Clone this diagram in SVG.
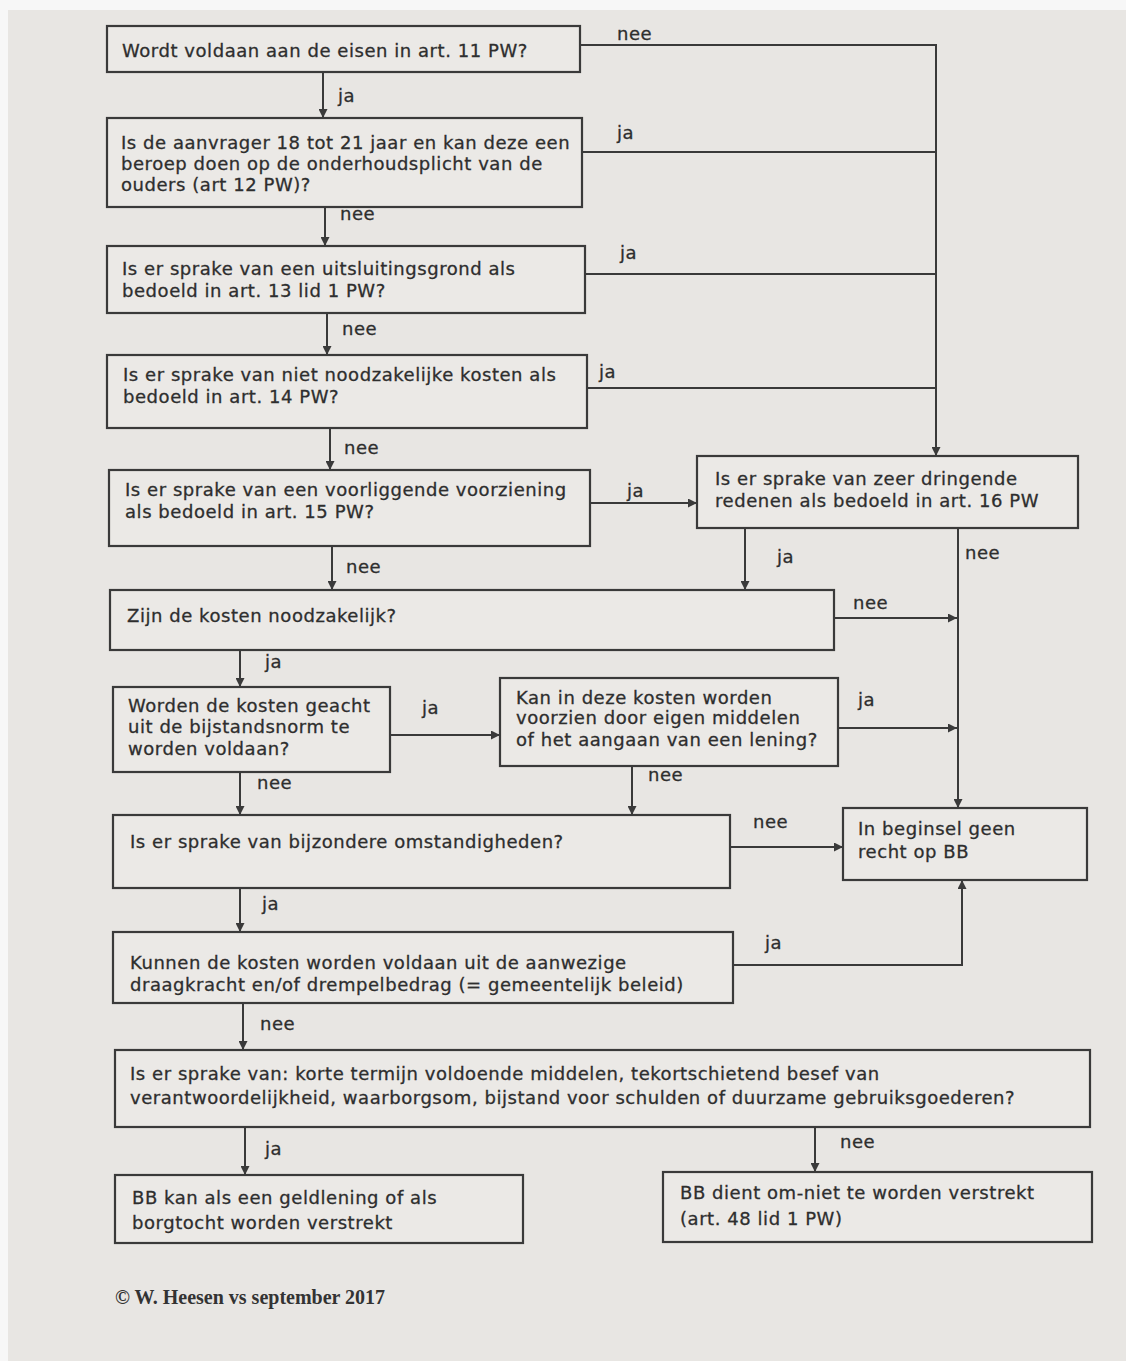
<svg xmlns="http://www.w3.org/2000/svg" width="1126" height="1361" viewBox="0 0 1126 1361">
<style>
.bg{fill:#e8e6e3}
.box{fill:#ebe9e6;stroke:#3a3a3a;stroke-width:2.2}
.t,.l{font-family:"DejaVu Sans",Verdana,sans-serif;font-size:18px;letter-spacing:0.55px;fill:#2e2e2e;stroke:#2e2e2e;stroke-width:0.3}
.c{fill:none;stroke:#3a3a3a;stroke-width:2}
.foot{font-family:"Liberation Serif","Times New Roman",serif;font-size:20px;fill:#333;font-weight:bold}
</style>
<defs>
<marker id="ah" viewBox="0 0 10 10" refX="10" refY="5" markerWidth="9" markerHeight="9" markerUnits="userSpaceOnUse" orient="auto">
<path d="M0,0 L10,5 L0,10 z" fill="#3a3a3a"/>
</marker>
</defs>
<rect class="bg" x="0" y="0" width="1126" height="1361"/>
<rect x="0" y="0" width="1126" height="10" fill="#f7f7f7"/>
<rect x="0" y="0" width="8" height="1361" fill="#f7f7f7"/>

<g id="connectors">
<path class="c" d="M580,45 H936 V456" marker-end="url(#ah)"/>
<path class="c" d="M582,152 H936"/>
<path class="c" d="M585,274 H936"/>
<path class="c" d="M587,388 H936"/>
<path class="c" d="M323,72 V118" marker-end="url(#ah)"/>
<path class="c" d="M325,207 V246" marker-end="url(#ah)"/>
<path class="c" d="M327,313 V355" marker-end="url(#ah)"/>
<path class="c" d="M330,428 V470" marker-end="url(#ah)"/>
<path class="c" d="M590,503 H697" marker-end="url(#ah)"/>
<path class="c" d="M332,546 V590" marker-end="url(#ah)"/>
<path class="c" d="M745,528 V590" marker-end="url(#ah)"/>
<path class="c" d="M958,528 V808" marker-end="url(#ah)"/>
<path class="c" d="M834,618 H957" marker-end="url(#ah)"/>
<path class="c" d="M240,650 V687" marker-end="url(#ah)"/>
<path class="c" d="M390,735 H500" marker-end="url(#ah)"/>
<path class="c" d="M838,728 H957" marker-end="url(#ah)"/>
<path class="c" d="M632,766 V815" marker-end="url(#ah)"/>
<path class="c" d="M240,772 V815" marker-end="url(#ah)"/>
<path class="c" d="M730,847 H843" marker-end="url(#ah)"/>
<path class="c" d="M240,888 V932" marker-end="url(#ah)"/>
<path class="c" d="M733,965 H962 V880" marker-end="url(#ah)"/>
<path class="c" d="M243,1003 V1050" marker-end="url(#ah)"/>
<path class="c" d="M245,1127 V1175" marker-end="url(#ah)"/>
<path class="c" d="M815,1127 V1172" marker-end="url(#ah)"/>
<text class="l" x="617" y="40">nee</text>
<text class="l" x="338" y="102">ja</text>
<text class="l" x="617" y="139">ja</text>
<text class="l" x="340" y="220">nee</text>
<text class="l" x="620" y="259">ja</text>
<text class="l" x="342" y="335">nee</text>
<text class="l" x="599" y="378">ja</text>
<text class="l" x="344" y="454">nee</text>
<text class="l" x="627" y="497">ja</text>
<text class="l" x="346" y="573">nee</text>
<text class="l" x="777" y="563">ja</text>
<text class="l" x="965" y="559">nee</text>
<text class="l" x="853" y="609">nee</text>
<text class="l" x="265" y="668">ja</text>
<text class="l" x="422" y="714">ja</text>
<text class="l" x="858" y="706">ja</text>
<text class="l" x="648" y="781">nee</text>
<text class="l" x="257" y="789">nee</text>
<text class="l" x="753" y="828">nee</text>
<text class="l" x="262" y="910">ja</text>
<text class="l" x="765" y="949">ja</text>
<text class="l" x="260" y="1030">nee</text>
<text class="l" x="265" y="1155">ja</text>
<text class="l" x="840" y="1148">nee</text>
</g>

<g id="n1"><rect class="box" x="107" y="26" width="473" height="46"/>
<text class="t" x="122" y="57">Wordt voldaan aan de eisen in art. 11  PW?</text></g>
<g id="n2"><rect class="box" x="107" y="118" width="475" height="89"/>
<text class="t" x="121" y="149">Is de aanvrager 18 tot 21 jaar en kan deze een</text>
<text class="t" x="121" y="170">beroep doen op de onderhoudsplicht van de</text>
<text class="t" x="121" y="191">ouders (art 12 PW)?</text></g>
<g id="n3"><rect class="box" x="107" y="246" width="478" height="67"/>
<text class="t" x="122" y="275">Is er sprake van een uitsluitingsgrond als</text>
<text class="t" x="122" y="297">bedoeld in art. 13 lid 1 PW?</text></g>
<g id="n4"><rect class="box" x="107" y="355" width="480" height="73"/>
<text class="t" x="123" y="381">Is er sprake van niet noodzakelijke kosten als</text>
<text class="t" x="123" y="403">bedoeld in art. 14 PW?</text></g>
<g id="n5"><rect class="box" x="109" y="470" width="481" height="76"/>
<text class="t" x="125" y="496">Is er sprake van een voorliggende voorziening</text>
<text class="t" x="125" y="518">als bedoeld in art. 15 PW?</text></g>
<g id="n6"><rect class="box" x="697" y="456" width="381" height="72"/>
<text class="t" x="715" y="485">Is er sprake van zeer dringende</text>
<text class="t" x="715" y="507">redenen als bedoeld in art. 16 PW</text></g>
<g id="n7"><rect class="box" x="110" y="590" width="724" height="60"/>
<text class="t" x="127" y="622">Zijn de kosten noodzakelijk?</text></g>
<g id="n8"><rect class="box" x="113" y="687" width="277" height="85"/>
<text class="t" x="128" y="712">Worden de kosten geacht</text>
<text class="t" x="128" y="733">uit de bijstandsnorm te</text>
<text class="t" x="128" y="755">worden voldaan?</text></g>
<g id="n9"><rect class="box" x="500" y="678" width="338" height="88"/>
<text class="t" x="516" y="704">Kan in deze kosten worden</text>
<text class="t" x="516" y="724">voorzien door eigen middelen</text>
<text class="t" x="516" y="746">of het aangaan van een lening?</text></g>
<g id="n10"><rect class="box" x="113" y="815" width="617" height="73"/>
<text class="t" x="130" y="848">Is er sprake van bijzondere omstandigheden?</text></g>
<g id="n11"><rect class="box" x="843" y="808" width="244" height="72"/>
<text class="t" x="858" y="835">In beginsel geen</text>
<text class="t" x="858" y="858">recht op BB</text></g>
<g id="n12"><rect class="box" x="113" y="932" width="620" height="71"/>
<text class="t" x="130" y="969">Kunnen de kosten worden voldaan uit de aanwezige</text>
<text class="t" x="130" y="991">draagkracht en/of drempelbedrag (= gemeentelijk beleid)</text></g>
<g id="n13"><rect class="box" x="115" y="1050" width="975" height="77"/>
<text class="t" x="130" y="1080">Is er sprake van: korte termijn voldoende middelen, tekortschietend besef van</text>
<text class="t" x="130" y="1104">verantwoordelijkheid, waarborgsom, bijstand voor schulden of duurzame gebruiksgoederen?</text></g>
<g id="n14"><rect class="box" x="115" y="1175" width="408" height="68"/>
<text class="t" x="132" y="1204">BB kan als een geldlening of als</text>
<text class="t" x="132" y="1229">borgtocht worden verstrekt</text></g>
<g id="n15"><rect class="box" x="663" y="1172" width="429" height="70"/>
<text class="t" x="680" y="1199">BB dient om-niet te worden verstrekt</text>
<text class="t" x="680" y="1225">(art. 48 lid 1 PW)</text></g>

<text class="foot" x="115" y="1304">© W. Heesen vs september 2017</text>
</svg>
